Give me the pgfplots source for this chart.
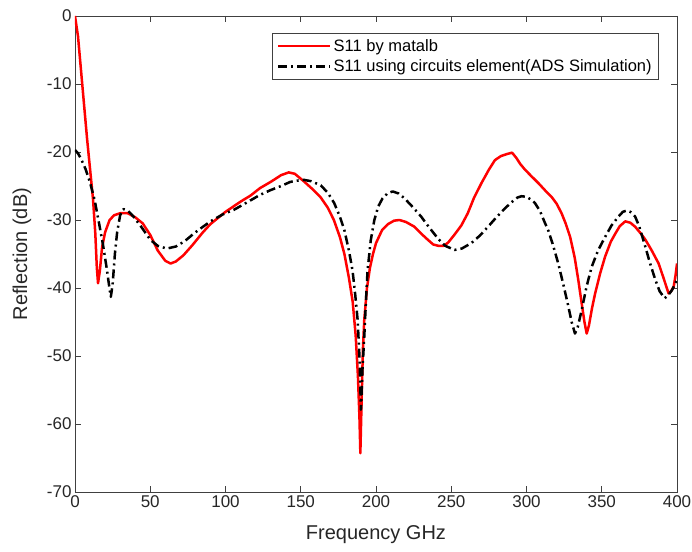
\documentclass[border=0pt]{standalone}
\usepackage{fontspec}
\setmainfont{Liberation Sans}
\usepackage{pgfplots}
\pgfplotsset{compat=1.18}
\begin{document}
\begin{tikzpicture}
\path[use as bounding box] (-75pt,-59pt) rectangle (617pt,492pt);
\begin{axis}[
  at={(0,0)}, anchor=south west, scale only axis,
  width=602pt, height=476pt,
  xmin=0, xmax=400, ymin=-70, ymax=0,
  xtick={0,50,100,150,200,250,300,350,400},
  xticklabels={0,50,100,150,200,250,300,350,400},
  ytick={-70,-60,-50,-40,-30,-20,-10,0},
  yticklabels={-70,-60,-50,-40,-30,-20,-10,0},
  tick label style={font=\fontsize{17}{20}\selectfont, color=black!85},
  major tick length=6pt,
  axis line style={black!75, line width=0.8pt},
  tick style={black!75, line width=0.8pt},
  xlabel={Frequency GHz}, ylabel={Reflection (dB)},
  label style={font=\fontsize{20}{24}\selectfont, color=black!85},
  xlabel style={at={(axis description cs:0.5,-0.0903)}, anchor=center},
  ylabel style={at={(axis description cs:-0.088,0.5)}, anchor=center},
  legend style={at={(rel axis cs:0.970,0.964)}, anchor=north east,
    font=\fontsize{16.5}{19}\selectfont, draw=black!75, line width=0.6pt,
    inner xsep=5pt, inner ysep=4pt, row sep=3pt,
    cells={anchor=west}},
  legend image code/.code={\draw[#1] (0pt,0pt) -- (52pt,0pt);},
]
\addplot[red, line width=2.5pt, line join=round] coordinates {
(0,0) (2,-3) (4,-8) (6,-13) (8,-18) (10,-22.5) (12,-27) (13.5,-32) (14.5,-37) (15.3,-39.3)
(16.5,-37.5) (18,-34) (20,-31.8) (23,-30) (26,-29.3) (30,-29) (35,-29) (40,-29.6) (45,-30.5)
(50,-32.2) (55,-34.5) (60,-36) (63.5,-36.4) (67,-36.1) (72,-35.2) (78,-33.7) (85,-31.8)
(90,-30.6) (100,-28.8) (110,-27.3) (116.7,-26.4) (123,-25.3) (130,-24.4) (137,-23.4)
(142,-23.0) (146,-23.2) (152,-24.3) (158,-25.5) (163,-26.6) (168,-28.2) (172,-30) (176,-32.5)
(179,-35) (182,-38.5) (184.5,-42) (186.5,-47) (188,-53) (189,-59) (189.6,-64.3) (190.5,-56)
(191.3,-49) (192.2,-44.7) (194,-40) (196,-37) (198,-35) (200,-33.4) (204,-31.5) (208,-30.6)
(212,-30.1) (215.6,-30) (220,-30.3) (225.6,-31) (230,-32) (234.4,-32.9) (238,-33.6)
(241.5,-33.8) (245,-33.8) (248,-33.3) (252,-32.2) (256.7,-30.8) (261,-29) (265,-26.8)
(270,-24.6) (275,-22.6) (279,-21.2) (283,-20.6) (287,-20.3) (290.4,-20.1) (293,-20.8)
(296,-21.8) (299,-22.6) (303,-23.5) (308,-24.6) (313,-25.8) (317,-26.7) (320,-27.6)
(323.3,-29) (326,-30.5) (329,-32.5) (332,-35.5) (334.4,-38.8) (336.5,-42) (338.5,-45)
(340,-46.7) (341.5,-45.5) (343.5,-43) (345.6,-40.8) (349,-37.8) (352.2,-35.4) (356,-33.2)
(359,-32) (362,-30.9) (365.6,-30.2) (369,-30.4) (372.2,-31) (376,-32) (379,-32.9) (383,-34.4)
(387.8,-36.4) (391,-38.5) (394.4,-40.8) (396,-40.5) (397.8,-39.8) (399,-38.2) (400,-36.4)
};
\addlegendentry{S11 by matalb}
\addplot[black, line width=2.5pt, line join=round, dash pattern=on 9pt off 4pt on 2pt off 4pt] coordinates {
(0,-19.7) (2,-20.2) (4,-21) (7,-22.5) (10,-24.5) (13,-27) (16,-30.5) (18.5,-33.5) (21,-37)
(23,-40.2) (23.8,-41.3) (25,-39.5) (26.5,-35) (28,-31.8) (30,-29.3) (32.2,-28.4) (35,-28.6)
(38.9,-29.5) (44,-31) (50,-32.9) (55,-33.8) (61,-34.2) (67,-33.9) (73,-33.1) (78.9,-32)
(85,-31) (90,-30.2) (98,-29.2) (105.6,-28.5) (112,-27.7) (116.7,-27.1) (123,-26.3) (130,-25.6)
(137,-25.0) (143,-24.4) (148,-24.2) (152.2,-24.1) (157,-24.3) (163.3,-24.9) (168,-26)
(172.2,-27.5) (176,-29.5) (179,-31.5) (182,-34.5) (184.4,-37.4) (186.2,-41) (187.8,-44.7)
(189,-50) (190,-57.9) (191,-52) (192.2,-47.2) (193.3,-42) (194.4,-37.4) (196.5,-33)
(198.9,-30) (201.5,-28) (204.4,-26.8) (207.5,-26.1) (211.1,-25.8) (215,-26.1) (218.9,-26.8)
(224,-28) (230,-29.5) (235,-31) (241.1,-32.7) (246,-33.8) (252.2,-34.4) (257,-34.2)
(263.3,-33.4) (269,-32.3) (274.4,-31) (280,-29.6) (285.6,-28.3) (290,-27.4) (294,-26.7)
(296.7,-26.5) (300,-26.6) (303,-27) (305.6,-27.5) (309,-28.7) (312,-30.3) (314.4,-31.5)
(317.5,-33.6) (321.1,-36.4) (324.5,-39.5) (327.8,-42.7) (330,-45) (332.2,-46.7) (334,-45.8)
(336.7,-43.2) (340,-39.7) (343.3,-36.9) (347.5,-34.5) (352.2,-32.5) (356.5,-30.8)
(361.1,-29.5) (364,-28.8) (366.7,-28.6) (369,-28.8) (372.2,-29.5) (375,-31) (378.9,-33.9)
(382,-36.3) (385.6,-38.8) (388.5,-40.5) (391.8,-41.5) (394,-41.1) (396.7,-40.3) (398.5,-39.5)
(400,-38.8)
};
\addlegendentry{S11 using circuits element(ADS Simulation)}
\end{axis}
\end{tikzpicture}
\end{document}
